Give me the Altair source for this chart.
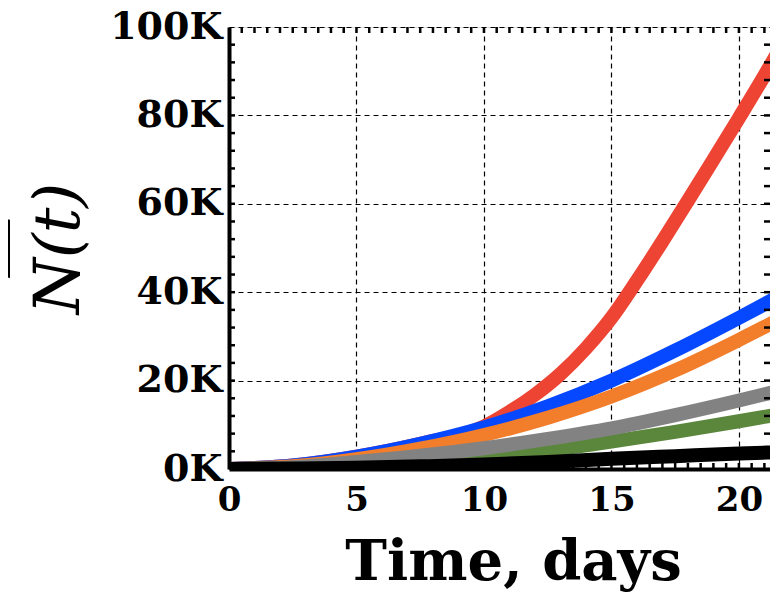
import altair as alt
import pandas as pd

# ---- data (values in thousands) ----
t_main = [0, 2.5, 5, 7.5, 10, 12.5, 15, 17.5, 20, 21.5]
t_red = [0, 2.5, 5, 7.5, 10, 11, 12, 13, 14, 15, 16, 17, 18, 19, 20, 21, 21.5]

red_k = [0, 0.8, 2.8, 5.7, 9.6, 12.9, 16.8, 21.5, 27.3, 34.2, 42.6, 51.5, 60.7, 70.0, 79.4, 89.0, 94.0]
blue_k = [0, 0.8, 2.8, 5.7, 9.4, 14.2, 20.0, 26.8, 34.2, 38.8]
orange_k = [0, 0.6, 2.2, 4.6, 7.7, 11.6, 16.4, 22.3, 29.2, 33.6]
gray_k = [0, 0.4, 1.6, 3.0, 4.7, 6.8, 9.2, 12.2, 15.5, 17.6]
green_k = [0, 0.2, 0.7, 1.5, 2.6, 4.2, 6.2, 8.4, 10.8, 12.3]
black_k = [0, 0.1, 0.3, 0.6, 1.0, 1.6, 2.3, 2.9, 3.5, 3.8]

x_major = [0, 5, 10, 15, 20]
y_major = [0, 20000, 40000, 60000, 80000, 100000]
x_minor = [i * 0.5 for i in range(1, 43)]
y_minor = [i * 4000 for i in range(1, 25)]

series = [
    ("red", t_red, red_k, "#EE4433"),
    ("blue", t_main, blue_k, "#0548FF"),
    ("orange", t_main, orange_k, "#F27D2B"),
    ("green", t_main, green_k, "#5B873D"),
    ("gray", t_main, gray_k, "#828282"),
    ("black", t_main, black_k, "#000000"),
]

W, H = 541, 442
FONT = "DejaVu Serif"

x_scale = alt.Scale(domain=[0, 21.22], nice=False, zero=False)
y_scale = alt.Scale(domain=[0, 100000], nice=False)

x_axis = alt.Axis(
    values=x_major, title="Time, days", grid=True, ticks=False,
    labelFlush=False, labelPadding=14, labelFontSize=34, labelFont=FONT,
    labelFontWeight="bold", labelColor="black",
    titleFont=FONT, titleFontWeight="bold", titleFontSize=56,
    titlePadding=18, titleColor="black", titleX=284,
    domainColor="black", domainWidth=4,
    gridColor="black", gridDash=[5, 4], gridWidth=1.2, gridOpacity=1,
)
y_axis = alt.Axis(
    values=y_major, title=["\u2014\u2003", "N(t)"], grid=True, ticks=False,
    labelExpr="datum.value / 1000 + 'K'", labelPadding=7,
    labelFontSize=38, labelFont=FONT, labelFontWeight="bold", labelColor="black",
    titleFont=FONT, titleFontStyle="italic", titleFontWeight="normal",
    titleFontSize=64, titlePadding=18, titleColor="black", titleLineHeight=54,
    domainColor="black", domainWidth=4,
    gridColor="black", gridDash=[5, 4], gridWidth=1.2, gridOpacity=1,
)

layers = []
for name, ts, vals, color in series:
    df = pd.DataFrame({"t": ts, "n": [v * 1000 for v in vals]})
    layers.append(
        alt.Chart(df)
        .mark_line(color=color, strokeWidth=14, interpolate="monotone", clip=True)
        .encode(
            x=alt.X("t:Q", scale=x_scale, axis=x_axis),
            y=alt.Y("n:Q", scale=y_scale, axis=y_axis),
        )
    )

xt = pd.DataFrame({"t": [v for v in x_minor if v < 21.2]})
yt = pd.DataFrame({"n": y_minor})
tick_style = dict(color="black", strokeWidth=2.5)

bottom_ticks = alt.Chart(xt).mark_rule(**tick_style).encode(
    x=alt.X("t:Q", scale=x_scale, axis=x_axis), y=alt.value(H), y2=alt.value(H - 6))
top_ticks = alt.Chart(xt).mark_rule(**tick_style).encode(
    x=alt.X("t:Q", scale=x_scale, axis=x_axis), y=alt.value(0), y2=alt.value(6))
left_ticks = alt.Chart(yt).mark_rule(**tick_style).encode(
    y=alt.Y("n:Q", scale=y_scale, axis=y_axis), x=alt.value(0), x2=alt.value(6))
right_ticks = alt.Chart(yt).mark_rule(**tick_style).encode(
    y=alt.Y("n:Q", scale=y_scale, axis=y_axis), x=alt.value(W), x2=alt.value(W - 6))

chart = (
    alt.layer(*layers, bottom_ticks, top_ticks, left_ticks, right_ticks)
    .properties(
        width=W, height=H,
        autosize=alt.AutoSizeParams(type="none"),
        padding={"left": 221, "top": 19, "right": 0, "bottom": 123},
    )
    .configure_view(stroke="black", strokeWidth=3)
    .configure(background="white")
)

chart.save("out.html", embed_options={"renderer": "svg", "actions": False})
